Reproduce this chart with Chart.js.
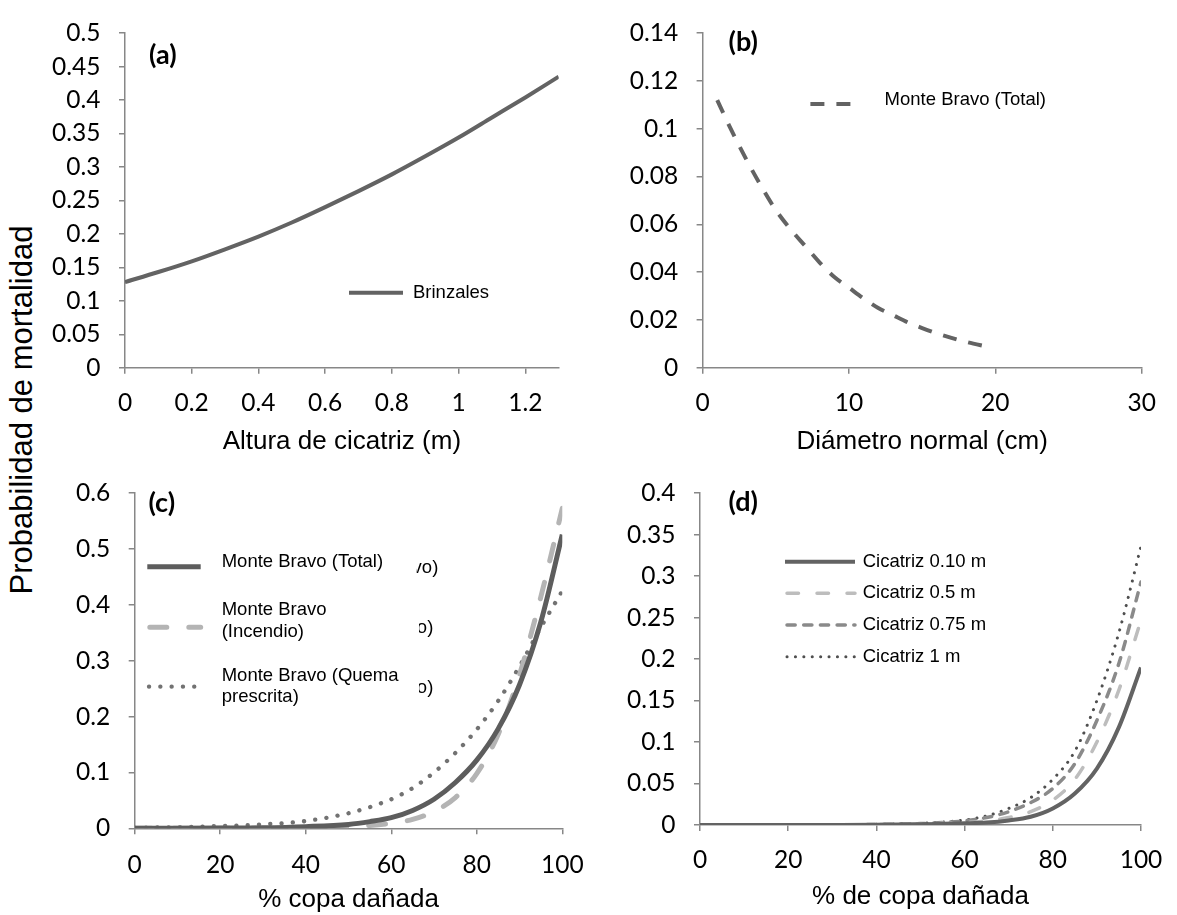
<!DOCTYPE html>
<html>
<head>
<meta charset="utf-8">
<script src="https://cdn.jsdelivr.net/npm/chart.js@4.4.0/dist/chart.umd.min.js"></script>
<style>
  body { margin: 0; background: #fff; width: 1177px; height: 915px; position: relative; overflow: hidden; }
  canvas { position: absolute; }
  #ytitle {
    position: absolute; left: -188px; top: 392px; width: 420px; height: 36px;
    line-height: 36px; text-align: center; transform: rotate(-90deg);
    font: 31px "Liberation Sans", Arial, sans-serif; color: #000; white-space: nowrap;
  }
</style>
</head>
<body>
<div id="ytitle">Probabilidad de mortalidad</div>
<canvas id="rackA" width="540" height="460" style="left:40px;top:0px"></canvas>
<canvas id="rackB" width="577" height="460" style="left:600px;top:0px"></canvas>
<canvas id="rackC" width="560" height="455" style="left:40px;top:460px"></canvas>
<canvas id="rackD" width="577" height="455" style="left:600px;top:460px"></canvas>
<script>
// (a) altura de cicatriz vs probabilidad
const alturaCicatriz = [0, 0.1, 0.2, 0.3, 0.4, 0.5, 0.6, 0.7, 0.8, 0.9, 1.0, 1.1, 1.2, 1.3];
const brinzales = [0.128, 0.143, 0.159, 0.177, 0.196, 0.217, 0.240, 0.264, 0.289, 0.316, 0.344, 0.374, 0.404, 0.435];

// (b) diametro normal
const diametroNormal = [1, 2, 3, 4, 5, 6, 7, 8, 9, 10, 11, 12, 13, 14, 15, 16, 17, 18, 19, 19.8];
const monteBravoDn = [0.112, 0.099, 0.087, 0.076, 0.066, 0.058, 0.051, 0.044, 0.038, 0.0335, 0.029, 0.025, 0.022, 0.019, 0.0166, 0.0144, 0.0125, 0.0108, 0.0094, 0.0084];

// (c) % copa dañada
const copaC = [0, 10, 20, 30, 40, 50, 55, 60, 65, 70, 75, 80, 85, 90, 95, 100];
const mbTotal = [0, 0.0002, 0.0005, 0.001, 0.003, 0.007, 0.012, 0.019, 0.032, 0.052, 0.082, 0.122, 0.178, 0.257, 0.370, 0.526];
const mbIncendio = [0, 0, 0, 0.0002, 0.001, 0.003, 0.005, 0.009, 0.016, 0.030, 0.055, 0.098, 0.168, 0.275, 0.415, 0.573];
const mbQuema = [0.001, 0.002, 0.004, 0.007, 0.013, 0.027, 0.038, 0.052, 0.072, 0.100, 0.135, 0.177, 0.228, 0.290, 0.360, 0.425];

// (d) % de copa dañada por altura de cicatriz
const copaD = [0, 10, 20, 30, 40, 50, 55, 60, 65, 70, 75, 80, 85, 90, 95, 100];
const cic010 = [0, 0, 0, 0.0001, 0.0003, 0.0008, 0.0013, 0.002, 0.003, 0.0055, 0.010, 0.020, 0.038, 0.068, 0.118, 0.190];
const cic05 = [0, 0, 0, 0.0002, 0.0005, 0.0012, 0.002, 0.003, 0.005, 0.009, 0.016, 0.030, 0.055, 0.100, 0.163, 0.247];
const cic075 = [0, 0, 0, 0.0002, 0.0007, 0.0017, 0.003, 0.005, 0.009, 0.016, 0.027, 0.044, 0.074, 0.126, 0.195, 0.293];
const cic1 = [0, 0, 0.0001, 0.0003, 0.0009, 0.002, 0.0035, 0.006, 0.011, 0.020, 0.033, 0.055, 0.089, 0.150, 0.232, 0.336];

const pts = (xs, ys) => xs.map((x, i) => ({ x: x, y: ys[i] }));
const fmt = v => String(Math.round(v * 100) / 100);

const AXIS = '#878787';
const TICKFONT = { family: 'Lato', size: 24.5 };
const TITLEFONT = { family: 'Liberation Sans', size: 26 };
const LEGFONT = '18.5px "Liberation Sans"';

// panel letter + in-plot legend, drawn on top
const decor = {
  id: 'decor',
  afterDatasetsDraw(chart, args, o) {
    const ctx = chart.ctx;
    ctx.save();
    ctx.fillStyle = '#000';
    ctx.textBaseline = 'middle';
    ctx.textAlign = 'left';
    ctx.font = 'bold 27px Lato';
    ctx.fillText(o.letter[0], o.letter[1], o.letter[2]);
    ctx.font = LEGFONT;
    o.items.forEach(it => {
      const ds = chart.data.datasets[it.ds];
      ctx.beginPath();
      ctx.strokeStyle = ds.borderColor;
      ctx.lineWidth = ds.borderWidth;
      ctx.lineCap = ds.borderCapStyle || 'butt';
      ctx.setLineDash(ds.borderDash || []);
      ctx.moveTo(it.x1, it.y);
      ctx.lineTo(it.x2, it.y);
      ctx.stroke();
      ctx.setLineDash([]);
      it.text.forEach(t => ctx.fillText(t[0], o.tx, t[1]));
    });
    (o.bits || []).forEach(b => {
      ctx.save();
      ctx.beginPath();
      ctx.rect(b.clip, b.y - 15, 60, 30);
      ctx.clip();
      ctx.textAlign = 'right';
      ctx.fillText(b.t, b.r, b.y);
      ctx.restore();
    });
    ctx.restore();
  }
};

function axes(c) {
  return {
    x: {
      type: 'linear', min: c.xmin, max: c.xmax,
      afterFit: s => { s.height = c.xh; },
      border: { color: AXIS, width: 1.5 },
      grid: { drawOnChartArea: false, drawTicks: true, tickLength: 6, color: AXIS, lineWidth: 1.5 },
      ticks: { stepSize: c.xstep, includeBounds: false, padding: c.xpad, color: '#000', font: TICKFONT, maxRotation: 0, callback: fmt },
      title: { display: true, text: c.xtitle, color: '#000', font: TITLEFONT, padding: { top: 0, bottom: c.tpad } }
    },
    y: {
      type: 'linear', min: 0, max: c.ymax,
      afterFit: s => { s.width = c.yw; },
      border: { color: AXIS, width: 1.5 },
      grid: { drawOnChartArea: false, drawTicks: true, tickLength: 6, color: AXIS, lineWidth: 1.5 },
      ticks: { stepSize: c.ystep, padding: 18.5, color: '#000', font: TICKFONT, callback: fmt }
    }
  };
}

function line(label, xs, ys, color, width, dash, cap) {
  return {
    label: label, data: pts(xs, ys), borderColor: color, borderWidth: width,
    borderDash: dash || [], borderCapStyle: cap || 'butt',
    pointRadius: 0, fill: false, cubicInterpolationMode: 'monotone'
  };
}

function make(id, datasets, c, decorOpts) {
  return new Chart(document.getElementById(id), {
    type: 'line',
    data: { datasets: datasets },
    options: {
      responsive: false, animation: false, devicePixelRatio: 1,
      layout: { padding: { left: 0, right: c.padR, top: c.padT, bottom: 0 } },
      scales: axes(c),
      plugins: { legend: { display: false }, tooltip: { enabled: false }, decor: decorOpts }
    },
    plugins: [decor]
  });
}

const rackA = make('rackA',
  [line('Brinzales', alturaCicatriz, brinzales, '#636363', 4)],
  { xmin: 0, xmax: 1.3, xstep: 0.2, ymax: 0.5, ystep: 0.05, yw: 85, xh: 92.3, xpad: 15, tpad: 2.7, padR: 21.3, padT: 27.3, xtitle: 'Altura de cicatriz (m)' },
  { letter: ['(a)', 109, 55], tx: 373, items: [{ ds: 0, x1: 309, x2: 363, y: 292.7, text: [['Brinzales', 292.7]] }] });

const rackB = make('rackB',
  [line('Monte Bravo (Total)', diametroNormal, monteBravoDn, '#636363', 4, [14, 12])],
  { xmin: 0, xmax: 30, xstep: 10, ymax: 0.14, ystep: 0.02, yw: 102.6, xh: 92.3, xpad: 15, tpad: 2.7, padR: 35.3, padT: 16.7, xtitle: 'Diámetro normal (cm)' },
  { letter: ['(b)', 128.5, 42.5], tx: 284.6, items: [{ ds: 0, x1: 210.4, x2: 252.3, y: 104, text: [['Monte Bravo (Total)', 100.3]] }] });

const rackC = make('rackC',
  [
    line('Monte Bravo (Total)', copaC, mbTotal, '#5d5d5d', 5),
    line('Monte Bravo (Incendio)', copaC, mbIncendio, '#b4b4b4', 5, [17, 22], 'round'),
    line('Monte Bravo (Quema prescrita)', copaC, mbQuema, '#727272', 4.3, [0.1, 11.2], 'round')
  ],
  { xmin: 0, xmax: 100, xstep: 20, ymax: 0.6, ystep: 0.1, yw: 94.7, xh: 86.7, xpad: 16.4, tpad: 0, padR: 27.9, padT: 24, xtitle: '% copa dañada' },
  {
    letter: ['(c)', 108.5, 43], tx: 181.7,
    items: [
      { ds: 0, x1: 107.3, x2: 160.7, y: 106.7, text: [['Monte Bravo (Total)', 101.7]] },
      { ds: 1, x1: 109.8, x2: 160.7, y: 167.3, text: [['Monte Bravo', 150], ['(Incendio)', 171.7]] },
      { ds: 2, x1: 109, x2: 160.7, y: 226.7, text: [['Monte Bravo (Quema', 216], ['prescrita)', 236.7]] }
    ],
    bits: [
      { t: 'vo)', r: 398.3, y: 108.3, clip: 376.7 },
      { t: 'o)', r: 393.3, y: 168.3, clip: 379 },
      { t: 'o)', r: 393.3, y: 228.3, clip: 379 }
    ]
  });

const rackD = make('rackD',
  [
    line('Cicatriz 0.10 m', copaD, cic010, '#636363', 4),
    line('Cicatriz 0.5 m', copaD, cic05, '#bdbdbd', 3.5, [11.5, 18.5], 'round'),
    line('Cicatriz 0.75 m', copaD, cic075, '#8a8a8a', 3.5, [8.2, 8.5], 'round'),
    line('Cicatriz 1 m', copaD, cic1, '#4f4f4f', 3, [0.1, 8.3], 'round')
  ],
  { xmin: 0, xmax: 100, xstep: 20, ymax: 0.4, ystep: 0.05, yw: 100, xh: 90, xpad: 14.7, tpad: 2.7, padR: 27.7, padT: 17.3, xtitle: '% de copa dañada' },
  {
    letter: ['(d)', 128.5, 42.5], tx: 262.7,
    items: [
      { ds: 0, x1: 185, x2: 255, y: 101.7, text: [['Cicatriz 0.10 m', 101.7]] },
      { ds: 1, x1: 187, x2: 255, y: 133.3, text: [['Cicatriz 0.5 m', 133.3]] },
      { ds: 2, x1: 187, x2: 255, y: 165, text: [['Cicatriz 0.75 m', 165]] },
      { ds: 3, x1: 187, x2: 255, y: 196.7, text: [['Cicatriz 1 m', 196.7]] }
    ]
  });
</script>
</body>
</html>
